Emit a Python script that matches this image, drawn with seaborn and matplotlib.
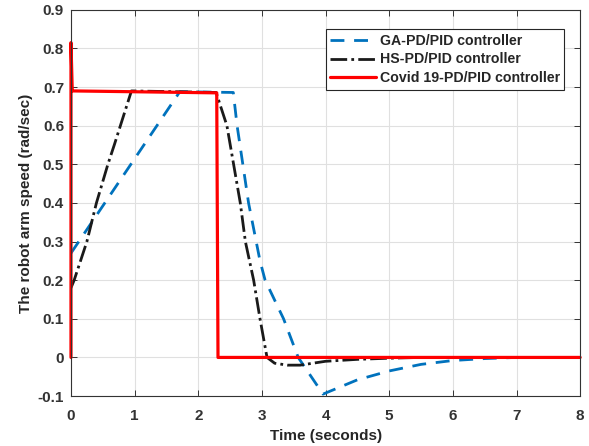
import numpy as np
import pandas as pd
import matplotlib
matplotlib.use("Agg")
import matplotlib.pyplot as plt
import seaborn as sns

# Data
ga_t = [0.0, 1.71, 2.55, 2.61, 2.79, 2.97, 3.05, 3.34, 3.57, 3.96, 4.5, 5.0, 5.5, 6.0, 6.5, 7.0, 8.0]
ga_v = [0.27, 0.688, 0.686, 0.60, 0.40, 0.25, 0.20, 0.10, 0.0, -0.095, -0.058, -0.035, -0.018, -0.008, -0.003, 0.0, 0.0]

hs_t = [0.0, 0.05, 0.25, 0.40, 0.58, 0.68, 0.95, 2.28, 2.45, 2.66, 2.74, 2.87, 2.97, 3.08, 3.2, 3.4, 3.6, 3.8, 4.0, 4.5, 5.0, 5.5, 8.0]
hs_v = [0.18, 0.20, 0.30, 0.40, 0.50, 0.55, 0.69, 0.686, 0.60, 0.40, 0.30, 0.20, 0.10, 0.0, -0.015, -0.02, -0.02, -0.015, -0.01, -0.005, -0.002, 0.0, 0.0]

cv_t = [0.0, 0.0, 0.02, 0.03, 2.29, 2.31, 8.0]
cv_v = [0.0, 0.815, 0.69, 0.69, 0.685, 0.0, 0.0]

labels = ["GA-PD/PID controller", "HS-PD/PID controller", "Covid 19-PD/PID controller"]
x_ticks = [0, 1, 2, 3, 4, 5, 6, 7, 8]
y_ticks = [-0.1, 0, 0.1, 0.2, 0.3, 0.4, 0.5, 0.6, 0.7, 0.8, 0.9]
y_ticklabels = ["-0.1", "0", "0.1", "0.2", "0.3", "0.4", "0.5", "0.6", "0.7", "0.8", "0.9"]

sns.set_style("whitegrid")
plt.rcParams['font.family'] = ['Liberation Sans', 'DejaVu Sans']

fig = plt.figure(figsize=(5.89, 4.46), dpi=100)
ax = fig.add_axes([0.1205, 0.112, 0.8645, 0.866])

df_ga = pd.DataFrame({"t": ga_t, "v": ga_v})
df_hs = pd.DataFrame({"t": hs_t, "v": hs_v})
df_cv = pd.DataFrame({"t": cv_t, "v": cv_v})

sns.lineplot(data=df_ga, x="t", y="v", ax=ax, sort=False, estimator=None, color="#0072BD",
             linewidth=2.0, linestyle=(0, (5, 3.5)), label=labels[0])
sns.lineplot(data=df_hs, x="t", y="v", ax=ax, sort=False, estimator=None, color="#1a1a1a",
             linewidth=2.0, linestyle=(0, (6, 1.5, 1, 1.5)), label=labels[1])
sns.lineplot(data=df_cv, x="t", y="v", ax=ax, sort=False, estimator=None, color="#FF0000",
             linewidth=2.3, label=labels[2])
ax.get_lines()[-1].set_clip_on(False)

ax.set_xlim(0, 8)
ax.set_ylim(-0.1, 0.9)
ax.set_xticks(x_ticks)
ax.set_yticks(y_ticks)
ax.set_yticklabels(y_ticklabels)
ax.set_xlabel("Time (seconds)", fontsize=11, fontweight="bold", color="#262626", labelpad=5)
ax.set_ylabel("The robot arm speed (rad/sec)", fontsize=11, fontweight="bold", color="#262626", labelpad=3)
for lab in ax.get_xticklabels() + ax.get_yticklabels():
    lab.set_fontweight("bold")
    lab.set_fontsize(11)
    lab.set_color("#333333")

ax.grid(True, color="#e0e0e0", linewidth=0.8)
for s in ax.spines.values():
    s.set_visible(True)
    s.set_color("#333333")
    s.set_linewidth(0.8)
ax.tick_params(direction="in", length=4, width=0.7, color="#333333",
               top=True, right=True, bottom=True, left=True)
ax.tick_params(axis="x", pad=9)
ax.tick_params(axis="y", pad=5)

leg = ax.legend(loc="upper right", bbox_to_anchor=(0.983, 0.968), frameon=True,
                fancybox=False, edgecolor="#262626", framealpha=1,
                prop={"weight": "bold", "size": 10.2}, handlelength=3.2,
                borderpad=0.3, labelspacing=0.35, handletextpad=0.3)
leg.get_frame().set_linewidth(0.8)

fig.savefig("out.png", dpi=100)
